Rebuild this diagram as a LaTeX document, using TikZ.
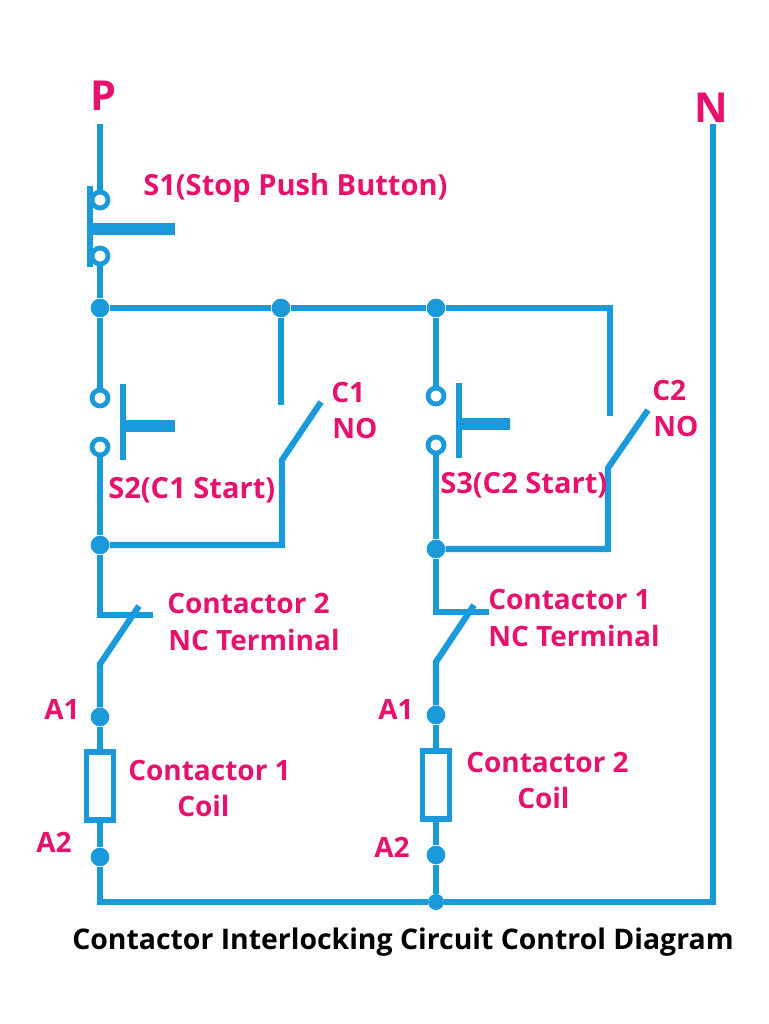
\documentclass[tikz,border=0pt]{standalone}
\usepackage{fontspec}
\setmainfont{Open Sans}
\usetikzlibrary{positioning}
\definecolor{wireblue}{HTML}{1B9ADB}
\definecolor{labelpink}{HTML}{E6126E}
\tikzset{
  wire/.style={draw=wireblue,line width=4.6pt},
  barwire/.style={draw=wireblue,line width=4.4pt},
  stemwire/.style={draw=wireblue,line width=8.5pt},
  junction/.style={circle,fill=wireblue,inner sep=0pt,minimum size=14pt},
  terminal/.style={circle,draw=wireblue,fill=white,line width=3.6pt,inner sep=0pt,minimum size=12pt},
  coil/.style={rectangle,draw=wireblue,fill=white,line width=4pt,inner sep=0pt,minimum width=20.5pt,minimum height=51pt},
  lab/.style={text=labelpink,font=\bfseries\fontsize{21}{24}\selectfont,anchor=west,inner sep=0pt},
  widelab/.style={lab,font=\bfseries\fontsize{21.8}{24}\selectfont},
  bigl/.style={text=labelpink,font=\bfseries\fontsize{31}{34}\selectfont,inner sep=0pt}
}
\begin{document}
\begin{tikzpicture}[x=0.75pt,y=-0.75pt]
\useasboundingbox (0,0) rectangle (768,1024);
% supply
\coordinate (pTop) at (100,124);
\coordinate (nTop) at (713,124);
\coordinate (nBot) at (713,902);
\coordinate (leftBot) at (100,902);
\node[bigl] (pLab) at (103,96) {P};
\node[bigl] (nLab) at (711,108) {N};
% S1
\node[terminal] (s1a) at (100,200) {};
\node[terminal] (s1b) at (100,256) {};
\coordinate (s1top) at (90,186);
\coordinate (s1bot) at (90,267);
\coordinate (s1mid) at (90,229);
\coordinate (s1end) at (175,229);
% junctions
\node[junction] (j1) at (100,308) {};
\node[junction] (j2) at (281,308) {};
\node[junction] (j3) at (436,308) {};
\coordinate (c2corner) at (610,308);
\coordinate (c1fix) at (281,405);
\coordinate (c2fix) at (610,416);
% left branch
\node[terminal] (s2a) at (100,398) {};
\node[terminal] (s2b) at (100,447) {};
\coordinate (s2top) at (123,384);
\coordinate (s2bot) at (123,460);
\coordinate (s2mid) at (123,426);
\coordinate (s2end) at (175,426);
\node[junction] (j4) at (100,545) {};
\coordinate (c1corner) at (282,545);
\coordinate (c1hinge) at (282,460);
\coordinate (c1tip) at (321,402);
\coordinate (nc2corner) at (100,615);
\coordinate (nc2end) at (153,615);
\coordinate (nc2tip) at (139,606);
\coordinate (nc2hinge) at (100,664);
\node[junction] (a1l) at (100,717) {};
\node[coil] (coil1) at (100,786) {};
\node[junction] (a2l) at (100,857) {};
% right branch
\node[terminal] (s3a) at (436,396) {};
\node[terminal] (s3b) at (436,445) {};
\coordinate (s3top) at (459,383);
\coordinate (s3bot) at (459,458);
\coordinate (s3mid) at (459,424);
\coordinate (s3end) at (510,424);
\node[junction] (j5) at (436,549) {};
\coordinate (c2corner2) at (608,549);
\coordinate (c2hinge) at (608,468);
\coordinate (c2tip) at (648,410);
\coordinate (nc1corner) at (436,612);
\coordinate (nc1end) at (489,612);
\coordinate (nc1tip) at (474,605);
\coordinate (nc1hinge) at (436,662);
\node[junction] (a1r) at (436,715) {};
\node[coil] (coil2) at (436,785) {};
\node[junction] (a2r) at (436,855) {};
\node[junction,minimum size=12pt] (j6) at (436,902) {};
% wires
\draw[wire] (pTop) -- (s1a);
\draw[wire] (s1b) -- (j1);
\draw[wire] (j1) -- (j2);
\draw[wire] (j2) -- (j3);
\draw[wire] (j3) -- (c2corner) -- (c2fix);
\draw[wire] (j2) -- (c1fix);
\draw[wire] (j1) -- (s2a);
\draw[wire] (s2b) -- (j4);
\draw[wire] (j4) -- (c1corner) -- (c1hinge) -- (c1tip);
\draw[wire] (j4) -- (nc2corner) -- (nc2end);
\draw[wire] (nc2tip) -- (nc2hinge) -- (a1l);
\draw[wire] (a1l) -- (coil1);
\draw[wire] (coil1) -- (a2l);
\draw[wire] (a2l) -- (leftBot) -- (j6);
\draw[wire] (j3) -- (s3a);
\draw[wire] (s3b) -- (j5);
\draw[wire] (j5) -- (c2corner2) -- (c2hinge) -- (c2tip);
\draw[wire] (j5) -- (nc1corner) -- (nc1end);
\draw[wire] (nc1tip) -- (nc1hinge) -- (a1r);
\draw[wire] (a1r) -- (coil2);
\draw[wire] (coil2) -- (a2r);
\draw[wire] (a2r) -- (j6);
\draw[wire] (j6) -- (nBot) -- (nTop);
% push buttons
\draw[barwire,line width=5pt] (s1top) -- (s1bot);
\draw[stemwire] (s1mid) -- (s1end);
\draw[barwire] (s2top) -- (s2bot);
\draw[stemwire] (s2mid) -- (s2end);
\draw[barwire] (s3top) -- (s3bot);
\draw[stemwire] (s3mid) -- (s3end);
% labels
\node[widelab] (s1Lab) at (143,188) {S1(Stop Push Button)};
\node[lab] (c1Lab) at (331,392) {C1};
\node[lab] (no1Lab) at (332,428) {NO};
\node[widelab] (s2Lab) at (108,490) {S2(C1 Start)};
\node[lab] (c2Lab) at (652,390) {C2};
\node[lab] (no2Lab) at (653,426) {NO};
\node[widelab] (s3Lab) at (440,485) {S3(C2 Start)};
\node[lab] (nc2Lab) at (167,603) {Contactor 2};
\node[lab] (nc2bLab) at (168,640) {NC Terminal};
\node[lab] (nc1Lab) at (488,599) {Contactor 1};
\node[lab] (nc1bLab) at (488,636) {NC Terminal};
\node[lab] (a1lLab) at (44,709) {A1};
\node[lab] (a2lLab) at (36,842) {A2};
\node[lab] (a1rLab) at (378,709) {A1};
\node[lab] (a2rLab) at (374,847) {A2};
\node[lab] (coil1Lab) at (128,770) {Contactor 1};
\node[lab] (coil1bLab) at (177,806) {Coil};
\node[lab] (coil2Lab) at (466,762) {Contactor 2};
\node[lab] (coil2bLab) at (517,798) {Coil};
\node[font=\bfseries\fontsize{21.3}{24}\selectfont,text=black,anchor=west,inner sep=0pt] (title) at (72,942) {Contactor Interlocking Circuit Control Diagram};
\end{tikzpicture}
\end{document}
